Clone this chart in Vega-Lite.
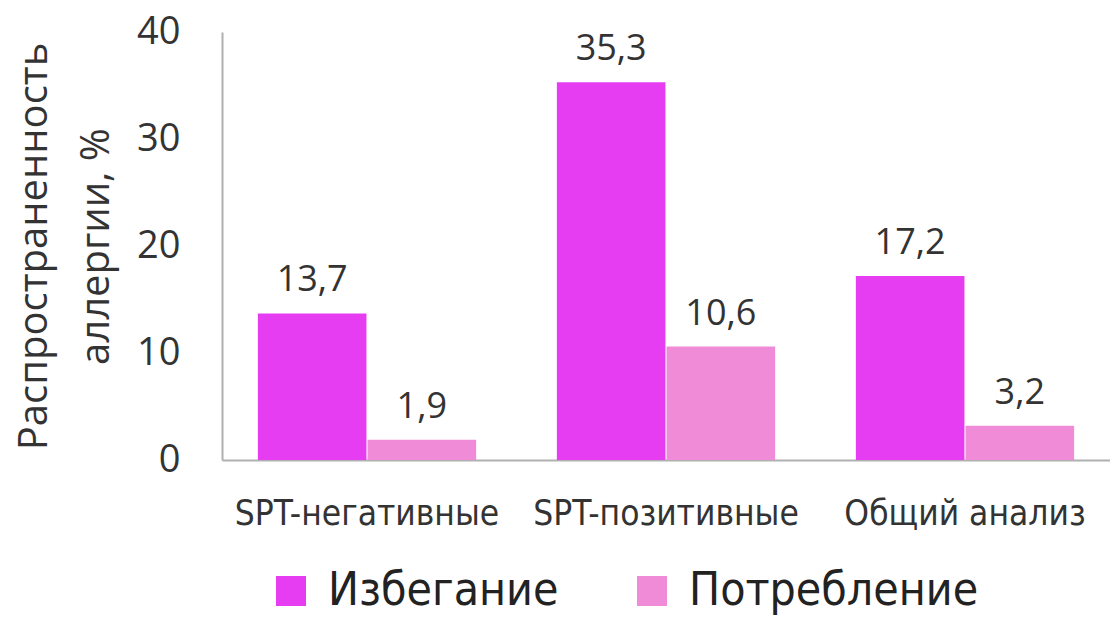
{
  "$schema": "https://vega.github.io/schema/vega-lite/v6.json",
  "width": 888,
  "height": 428,
  "autosize": "none",
  "padding": {"left": 222, "top": 32, "right": 0, "bottom": 158},
  "background": "white",
  "config": {
    "view": {"stroke": null},
    "locale": {"number": {"decimal": ",", "thousands": " ", "grouping": [3], "currency": ["", ""]}}
  },
  "data": {
    "values": [
      {"group": "SPT-негативные", "type": "Избегание", "value": 13.7},
      {"group": "SPT-негативные", "type": "Потребление", "value": 1.9},
      {"group": "SPT-позитивные", "type": "Избегание", "value": 35.3},
      {"group": "SPT-позитивные", "type": "Потребление", "value": 10.6},
      {"group": "Общий анализ", "type": "Избегание", "value": 17.2},
      {"group": "Общий анализ", "type": "Потребление", "value": 3.2}
    ]
  },
  "encoding": {
    "x": {
      "field": "group", "type": "nominal", "sort": null,
      "scale": {"paddingInner": 0.27, "paddingOuter": 0.12},
      "axis": {
        "title": null, "labelAngle": 0, "ticks": false, "domainColor": "#b0b0b0", "domainWidth": 2,
        "labelFont": "DejaVu Sans Condensed", "labelFontSize": 35, "labelColor": "#333333",
        "labelPadding": 36, "labelBaseline": "top", "labelLimit": 0
      }
    },
    "xOffset": {"field": "type", "type": "nominal", "sort": ["Избегание", "Потребление"], "scale": {"paddingInner": 0.01}},
    "y": {
      "field": "value", "type": "quantitative",
      "scale": {"domain": [0, 40], "nice": false},
      "axis": {
        "values": [0, 10, 20, 30, 40], "grid": false, "ticks": false,
        "domainColor": "#b0b0b0", "domainWidth": 2,
        "labelFont": "Open Sans", "labelFontSize": 38, "labelColor": "#333333", "labelPadding": 42,
        "title": ["Распространенность", "аллергии, %"],
        "titleFont": "Open Sans", "titleFontSize": 40, "titleFontWeight": "normal", "titleColor": "#333333",
        "titleLineHeight": 62, "titlePadding": 20
      }
    }
  },
  "layer": [
    {
      "mark": {"type": "bar"},
      "encoding": {
        "color": {
          "field": "type", "type": "nominal",
          "scale": {"domain": ["Избегание", "Потребление"], "range": ["#e63cf2", "#f08bd8"]},
          "legend": {
            "title": null, "orient": "none", "legendX": 46, "legendY": 536, "direction": "horizontal",
            "symbolType": "square", "symbolSize": 900, "symbolStrokeWidth": 0,
            "labelFont": "DejaVu Sans Condensed", "labelFontSize": 46, "labelColor": "#222222",
            "labelOffset": 14, "columnPadding": 70, "labelLimit": 0
          }
        }
      }
    },
    {
      "mark": {"type": "text", "baseline": "bottom", "dy": -14, "font": "Open Sans", "fontSize": 36, "color": "#333333"},
      "encoding": {"text": {"field": "value", "type": "quantitative", "format": ".1f"}}
    }
  ]
}
